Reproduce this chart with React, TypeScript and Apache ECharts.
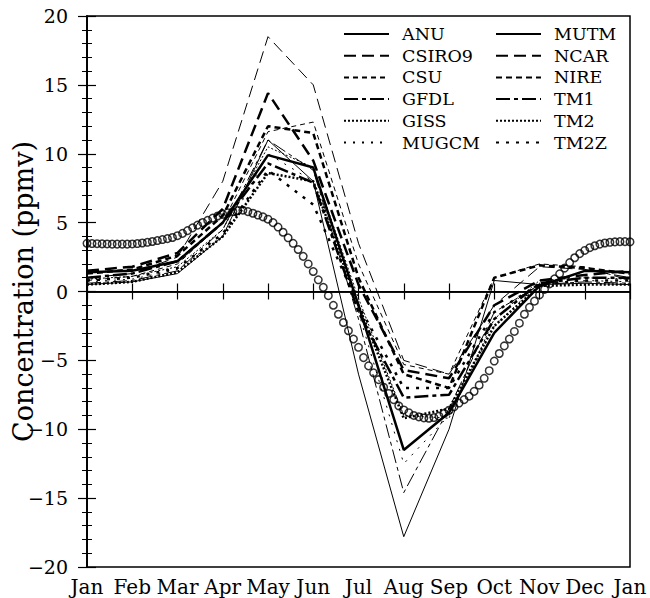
import { useEffect, useRef } from 'react';
import * as echarts from 'echarts';

const monthLabels = ['Jan', 'Feb', 'Mar', 'Apr', 'May', 'Jun', 'Jul', 'Aug', 'Sep', 'Oct', 'Nov', 'Dec', 'Jan'];

const anu = [0.5, 0.7, 1.3, 4.0, 11.0, 8.0, -6.0, -17.8, -10.0, 0.8, 0.5, 0.6, 0.5];
const csiro9 = [1.0, 1.3, 2.5, 8.0, 18.5, 15.0, 3.5, -5.0, -6.0, -1.0, 1.8, 1.6, 1.0];
const csu = [0.8, 1.1, 2.0, 5.0, 11.6, 12.3, 2.0, -5.3, -6.0, 1.0, 2.0, 1.8, 0.8];
const gfdl = [0.6, 0.8, 1.5, 4.5, 11.0, 8.8, -2.0, -14.6, -8.5, -1.5, 0.5, 0.7, 0.6];
const giss = [0.9, 1.1, 1.8, 4.5, 10.5, 9.0, -0.5, -9.0, -9.2, -2.0, 0.8, 1.0, 0.9];
const mugcm = [0.7, 0.9, 1.6, 4.0, 10.0, 8.0, -1.5, -12.5, -9.0, -2.5, 0.6, 0.8, 0.7];
const mutm = [1.4, 1.5, 2.2, 5.0, 9.9, 9.0, -1.0, -11.5, -8.8, -3.0, 0.4, 1.5, 1.4];
const ncar = [1.5, 1.8, 2.8, 6.0, 14.4, 9.5, 0.5, -5.7, -6.3, -1.0, 0.8, 1.2, 1.5];
const nire = [1.3, 1.6, 2.6, 5.5, 12.0, 11.5, 1.0, -6.0, -7.0, 1.0, 1.9, 1.7, 1.3];
const tm1 = [1.0, 1.3, 2.2, 5.0, 9.3, 7.9, -1.5, -7.7, -7.5, -2.0, 0.6, 1.0, 1.0];
const tm2 = [0.5, 0.7, 1.4, 4.0, 8.6, 8.0, -1.0, -9.2, -8.5, -2.5, 0.4, 0.5, 0.5];
const tm2z = [0.8, 1.0, 1.7, 4.2, 8.8, 6.3, -1.0, -7.0, -7.0, -1.5, 0.5, 0.8, 0.8];

// observed seasonal cycle, sampled every 1/9 month from Jan to Jan
const observed = [
  3.5, 3.48, 3.47, 3.46, 3.45, 3.44, 3.44, 3.44, 3.44, 3.45,
  3.48, 3.52, 3.57, 3.63, 3.7, 3.77, 3.84, 3.92, 4.05, 4.22,
  4.42, 4.62, 4.82, 5.0, 5.17, 5.33, 5.48, 5.6, 5.72, 5.8,
  5.87, 5.9, 5.8, 5.68, 5.55, 5.42, 5.25, 5.0, 4.68, 4.3,
  3.9, 3.5, 3.05, 2.55, 2.0, 1.45, 0.85, 0.3, -0.3, -1.0,
  -1.65, -2.25, -2.85, -3.45, -4.05, -4.8, -5.4, -5.9, -6.4, -6.95,
  -7.4, -7.85, -8.3, -8.6, -8.8, -9.0, -9.1, -9.18, -9.2, -9.15,
  -9.05, -8.85, -8.62, -8.38, -8.1, -7.85, -7.6, -7.25, -6.8, -6.3,
  -5.75, -5.05, -4.5, -3.95, -3.45, -2.9, -2.3, -1.65, -1.15, -0.7,
  -0.25, 0.15, 0.55, 0.92, 1.28, 1.7, 2.1, 2.45, 2.75, 2.98,
  3.18, 3.32, 3.44, 3.52, 3.57, 3.6, 3.62, 3.62, 3.6,
];

const models = [
  { name: 'ANU', values: anu, width: 1, dash: 'solid' as any },
  { name: 'CSIRO9', values: csiro9, width: 1, dash: [12, 6] },
  { name: 'CSU', values: csu, width: 1, dash: [5, 4] },
  { name: 'GFDL', values: gfdl, width: 1, dash: [14, 4, 4, 4] },
  { name: 'GISS', values: giss, width: 1, dash: [2, 2] },
  { name: 'MUGCM', values: mugcm, width: 1, dash: [2, 7] },
  { name: 'MUTM', values: mutm, width: 2.5, dash: 'solid' as any },
  { name: 'NCAR', values: ncar, width: 2.5, dash: [12, 6] },
  { name: 'NIRE', values: nire, width: 2.5, dash: [6, 4] },
  { name: 'TM1', values: tm1, width: 2.5, dash: [14, 4, 4, 4] },
  { name: 'TM2', values: tm2, width: 2.5, dash: [2, 2] },
  { name: 'TM2Z', values: tm2z, width: 2.5, dash: [3, 7] },
];

const FONT = 'DejaVu Serif';

export default function App() {
  const ref = useRef<HTMLDivElement>(null);
  useEffect(() => {
    const chart = echarts.init(ref.current!, null, { renderer: 'svg' });
    const fmtY = (v: number) => (v < 0 ? '\u2212' + Math.abs(v) : String(v));
    const obsStep = 12 / (observed.length - 1);
    const series: any[] = [
      {
        name: 'Observed',
        type: 'scatter',
        data: observed.map((v, i) => [i * obsStep, v]),
        symbol: 'circle',
        symbolSize: 7.5,
        itemStyle: { color: 'rgba(255,255,255,0)', borderColor: '#000', borderWidth: 1.5 },
        z: 4,
        silent: true,
      },
      ...models.map((m, idx) => ({
        name: m.name,
        type: 'line',
        data: m.values.map((v, i) => [i, v]),
        symbol: 'none',
        z: 3,
        lineStyle: { color: '#000', width: m.width, type: m.dash },
        itemStyle: { color: '#000' },
        ...(idx === 0
          ? {
              markLine: {
                silent: true,
                symbol: 'none',
                label: { show: false },
                lineStyle: { color: '#000', width: 1.2, type: 'solid' },
                data: [{ yAxis: 0 }],
              },
            }
          : {}),
      })),
    ];
    const legendBase = {
      orient: 'vertical',
      top: 20,
      itemWidth: 45,
      itemHeight: 14,
      itemGap: 3.7,
      selectedMode: false,
      itemStyle: { opacity: 0 },
      textStyle: { fontFamily: FONT, fontSize: 17.5, lineHeight: 16, color: '#000', padding: [0, 0, 0, 8] },
    };
    chart.setOption({
      animation: false,
      backgroundColor: '#fff',
      grid: {
        left: 87,
        right: 20,
        top: 16,
        bottom: 31,
        outerBoundsMode: 'none',
        containLabel: false,
        show: true,
        borderColor: '#000',
        borderWidth: 1.5,
      },
      legend: [
        { ...legendBase, left: 338, data: models.slice(0, 6).map((m) => m.name) },
        { ...legendBase, left: 490, data: models.slice(6).map((m) => m.name) },
      ],
      xAxis: [
        {
          type: 'value',
          min: 0,
          max: 12,
          interval: 1,
          axisLine: { lineStyle: { color: '#000', width: 1.5 } },
          axisTick: { inside: true, length: 8, lineStyle: { color: '#000', width: 1.2 } },
          splitLine: { show: false },
          axisLabel: {
            formatter: (v: number) => monthLabels[Math.round(v)] ?? '',
            fontFamily: FONT,
            fontSize: 20,
            color: '#000',
            margin: 10,
          },
        },
        {
          type: 'value',
          position: 'top',
          min: 0,
          max: 12,
          interval: 1,
          axisLine: { lineStyle: { color: '#000', width: 1.5 } },
          axisTick: { inside: true, length: 8, lineStyle: { color: '#000', width: 1.2 } },
          splitLine: { show: false },
          axisLabel: { show: false },
        },
      ],
      yAxis: [
        {
          type: 'value',
          min: -20,
          max: 20,
          interval: 5,
          name: 'Concentration (ppmv)',
          nameLocation: 'middle',
          nameGap: 50,
          nameMoveOverlap: false,
          nameTextStyle: { fontFamily: FONT, fontSize: 27, color: '#000' },
          axisLine: { lineStyle: { color: '#000', width: 1.5 } },
          axisTick: { inside: true, length: 9, lineStyle: { color: '#000', width: 1.2 } },
          minorTick: { show: true, splitNumber: 5, length: 5, lineStyle: { color: '#000', width: 1 } },
          splitLine: { show: false },
          axisLabel: { formatter: fmtY, fontFamily: FONT, fontSize: 19, color: '#000', margin: 19 },
        },
        {
          type: 'value',
          position: 'right',
          min: -20,
          max: 20,
          interval: 5,
          axisLine: { lineStyle: { color: '#000', width: 1.5 } },
          axisTick: { inside: true, length: 9, lineStyle: { color: '#000', width: 1.2 } },
          minorTick: { show: true, splitNumber: 5, length: 5, lineStyle: { color: '#000', width: 1 } },
          splitLine: { show: false },
          axisLabel: { show: false },
        },
      ],
      series,
    });
    return () => chart.dispose();
  }, []);
  return <div ref={ref} style={{ position: 'fixed', left: 0, top: 0, width: 650, height: 598 }} />;
}
